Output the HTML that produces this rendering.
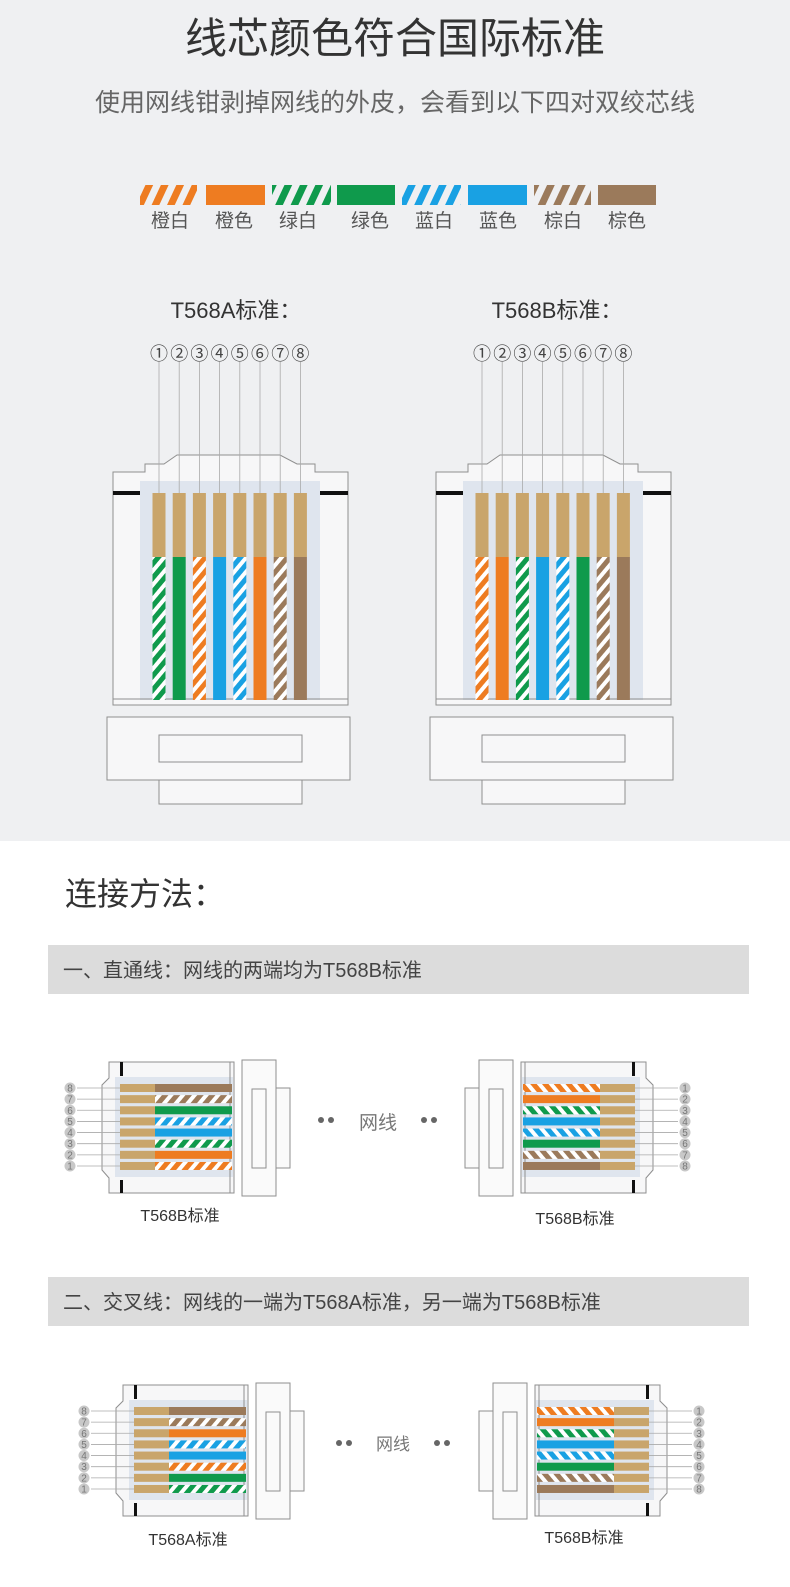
<!DOCTYPE html>
<html><head><meta charset="utf-8"><style>
html,body{margin:0;padding:0;background:#fff;}
svg{display:block;}
text{font-family:"Liberation Sans","Noto Sans CJK SC",sans-serif;}
</style></head><body>
<svg id="s" width="790" height="1587" viewBox="0 0 790 1587" xmlns="http://www.w3.org/2000/svg">
<defs>
<pattern id="p_o" width="9" height="9" patternUnits="userSpaceOnUse" patternTransform="rotate(40)"><rect width="9" height="9" fill="#fff"/><rect width="5" height="9" fill="#ee7c21"/></pattern>
<pattern id="p_g" width="9" height="9" patternUnits="userSpaceOnUse" patternTransform="rotate(40)"><rect width="9" height="9" fill="#fff"/><rect width="5" height="9" fill="#0f9a4c"/></pattern>
<pattern id="p_b" width="9" height="9" patternUnits="userSpaceOnUse" patternTransform="rotate(40)"><rect width="9" height="9" fill="#fff"/><rect width="5" height="9" fill="#19a1e3"/></pattern>
<pattern id="p_n" width="9" height="9" patternUnits="userSpaceOnUse" patternTransform="rotate(40)"><rect width="9" height="9" fill="#fff"/><rect width="5" height="9" fill="#9b7a5b"/></pattern>
<pattern id="w_o" width="14" height="14" patternUnits="userSpaceOnUse" patternTransform="rotate(25)"><rect width="14" height="14" fill="#eff0f2"/><rect width="7" height="14" fill="#ee7c21"/></pattern>
<pattern id="w_g" width="14" height="14" patternUnits="userSpaceOnUse" patternTransform="rotate(25)"><rect width="14" height="14" fill="#eff0f2"/><rect width="7" height="14" fill="#0f9a4c"/></pattern>
<pattern id="w_b" width="14" height="14" patternUnits="userSpaceOnUse" patternTransform="rotate(25)"><rect width="14" height="14" fill="#eff0f2"/><rect width="7" height="14" fill="#19a1e3"/></pattern>
<pattern id="w_n" width="14" height="14" patternUnits="userSpaceOnUse" patternTransform="rotate(25)"><rect width="14" height="14" fill="#eff0f2"/><rect width="7" height="14" fill="#9b7a5b"/></pattern>
</defs>
<rect x="0" y="0" width="790" height="841" fill="#eff0f2"/>
<text x="395" y="53" font-size="42" fill="#333" text-anchor="middle">线芯颜色符合国际标准</text>
<text x="395" y="111" font-size="25" fill="#666" text-anchor="middle">使用网线钳剥掉网线的外皮，会看到以下四对双绞芯线</text>

<rect x="140" y="185" width="57" height="20" fill="url(#w_o)"/>
<rect x="206" y="185" width="59" height="20" fill="#ee7c21"/>
<rect x="272" y="185" width="59" height="20" fill="url(#w_g)"/>
<rect x="337" y="185" width="58" height="20" fill="#0f9a4c"/>
<rect x="402" y="185" width="59" height="20" fill="url(#w_b)"/>
<rect x="468" y="185" width="59" height="20" fill="#19a1e3"/>
<rect x="534" y="185" width="57" height="20" fill="url(#w_n)"/>
<rect x="598" y="185" width="58" height="20" fill="#9b7a5b"/>
<g font-size="19" fill="#555" text-anchor="middle">
<text x="170" y="227">橙白</text><text x="234" y="227">橙色</text><text x="298" y="227">绿白</text><text x="370" y="227">绿色</text>
<text x="434" y="227">蓝白</text><text x="498" y="227">蓝色</text><text x="563" y="227">棕白</text><text x="627" y="227">棕色</text>
</g>
<text x="236" y="318" font-size="22" fill="#333" text-anchor="middle">T568A标准：</text>
<text x="557" y="318" font-size="22" fill="#333" text-anchor="middle">T568B标准：</text>

<text x="65" y="905" font-size="32" fill="#333">连接方法：</text>
<rect x="48" y="945" width="701" height="49" fill="#dcdcdc"/>
<text x="63" y="977" font-size="20" fill="#444">一、直通线：网线的两端均为T568B标准</text>
<rect x="48" y="1277" width="701" height="49" fill="#dcdcdc"/>
<text x="63" y="1309" font-size="20" fill="#444">二、交叉线：网线的一端为T568A标准，另一端为T568B标准</text>

<g fill="#666"><circle cx="321" cy="1120" r="3"/><circle cx="331" cy="1120" r="3"/><circle cx="424" cy="1120" r="3"/><circle cx="434" cy="1120" r="3"/>
<circle cx="339" cy="1443" r="3"/><circle cx="349" cy="1443" r="3"/><circle cx="437" cy="1443" r="3"/><circle cx="447" cy="1443" r="3"/></g>
<text x="378" y="1129" font-size="19" fill="#777" text-anchor="middle">网线</text>
<text x="393" y="1450" font-size="17" fill="#777" text-anchor="middle">网线</text>
<g font-size="16" fill="#333" text-anchor="middle">
<text x="180" y="1221">T568B标准</text><text x="575" y="1224">T568B标准</text>
<text x="188" y="1545">T568A标准</text><text x="584" y="1543">T568B标准</text>
</g>
<g id="dyn"></g>
</svg>
<script>
var NS="http://www.w3.org/2000/svg";
var svg=document.getElementById('dyn');
function el(p,t,a,txt){var e=document.createElementNS(NS,t);for(var k in a)e.setAttribute(k,a[k]);if(txt!==undefined)e.textContent=txt;p.appendChild(e);return e;}
var COL={o:'#ee7c21',g:'#0f9a4c',b:'#19a1e3',n:'#9b7a5b'};
function fill(w){return w.length==2?'url(#p_'+w[0]+')':COL[w];}
var GOLD='#c9a56b',ST='#8f8f8f';
var A=['gw','g','ow','b','bw','o','nw','n'];
var B=['ow','o','gw','b','bw','g','nw','n'];
var circ=['①','②','③','④','⑤','⑥','⑦','⑧'];
function vconn(ox,wires){
  var g=el(svg,'g',{transform:'translate('+ox+',0)'});
  el(g,'polygon',{points:'113,472 145,472 145,464 164,464 177,455 280,455 297,464 315,464 315,472 348,472 348,705 113,705',fill:'#f7f7f8',stroke:ST,'stroke-width':1});
  el(g,'rect',{x:140,y:481,width:180,height:219,fill:'#dfe5ee'});
  el(g,'rect',{x:113,y:491,width:27,height:4,fill:'#111'});
  el(g,'rect',{x:320,y:491,width:28,height:4,fill:'#111'});
  el(g,'line',{x1:113,y1:699,x2:348,y2:699,stroke:ST,'stroke-width':1});
  for(var i=0;i<8;i++){
    var x=159+20.2*i;
    el(g,'line',{x1:x,y1:362,x2:x,y2:493,stroke:'#aaa','stroke-width':0.8});
    el(g,'rect',{x:x-6.5,y:493,width:13,height:64,fill:GOLD});
    el(g,'rect',{x:x-6.5,y:557,width:13,height:143,fill:fill(wires[i])});
    el(g,'text',{x:x,y:360,'font-size':18,fill:'#444','text-anchor':'middle'},circ[i]);
  }
  el(g,'rect',{x:107,y:717,width:243,height:63,fill:'#f7f7f8',stroke:ST,'stroke-width':1});
  el(g,'rect',{x:159,y:735,width:143,height:27,fill:'#f7f7f8',stroke:ST,'stroke-width':1});
  el(g,'rect',{x:159,y:780,width:143,height:24,fill:'#f7f7f8',stroke:ST,'stroke-width':1});
}
vconn(0,A);vconn(323,B);
function hconn(tr,c,dy,wires,nums){
  var g=el(svg,'g',{transform:tr});
  el(g,'polygon',{points:'109,1062 234,1062 234,1193 109,1193 109,1178 102,1170 102,1085 109,1078',fill:'#f7f7f8',stroke:ST,'stroke-width':1});
  el(g,'rect',{x:115,y:1077,width:118,height:100,fill:'#dfe5ee'});
  el(g,'rect',{x:120,y:1062,width:3,height:14,fill:'#111'});
  el(g,'rect',{x:120,y:1180,width:3,height:13,fill:'#111'});
  el(g,'line',{x1:230,y1:1062,x2:230,y2:1193,stroke:ST,'stroke-width':1});
  for(var i=0;i<8;i++){
    var y=1088+i*11.14;
    el(g,'line',{x1:77,y1:y,x2:120,y2:y,stroke:'#aaa','stroke-width':0.8});
    el(g,'circle',{cx:70,cy:y,r:5.5,fill:'#c8c8c8'});
    el(g,'rect',{x:120,y:y-4,width:35,height:8,fill:GOLD});
    el(g,'rect',{x:155,y:y-4,width:77,height:8,fill:fill(wires[i])});
  }
  el(g,'rect',{x:242,y:1060,width:34,height:136,fill:'#fafafa',stroke:ST,'stroke-width':1});
  el(g,'rect',{x:252,y:1089,width:14,height:79,fill:'#fafafa',stroke:ST,'stroke-width':1});
  el(g,'rect',{x:276,y:1088,width:14,height:80,fill:'#fafafa',stroke:ST,'stroke-width':1});
  for(var i=0;i<8;i++){
    var y=1088+i*11.14+dy;
    el(svg,'text',{x:c,y:y+3.5,'font-size':10,fill:'#777','text-anchor':'middle'},nums[i]);
  }
}
var d=[8,7,6,5,4,3,2,1],u=[1,2,3,4,5,6,7,8];
hconn('translate(0,0)',70,0,['n','nw','g','bw','b','gw','o','ow'],d);
hconn('translate(755,0) scale(-1,1)',685,0,B,u);
hconn('translate(14,323)',84,323,['n','nw','o','bw','b','ow','g','gw'],d);
hconn('translate(769,323) scale(-1,1)',699,323,B,u);
</script>
</body></html>
